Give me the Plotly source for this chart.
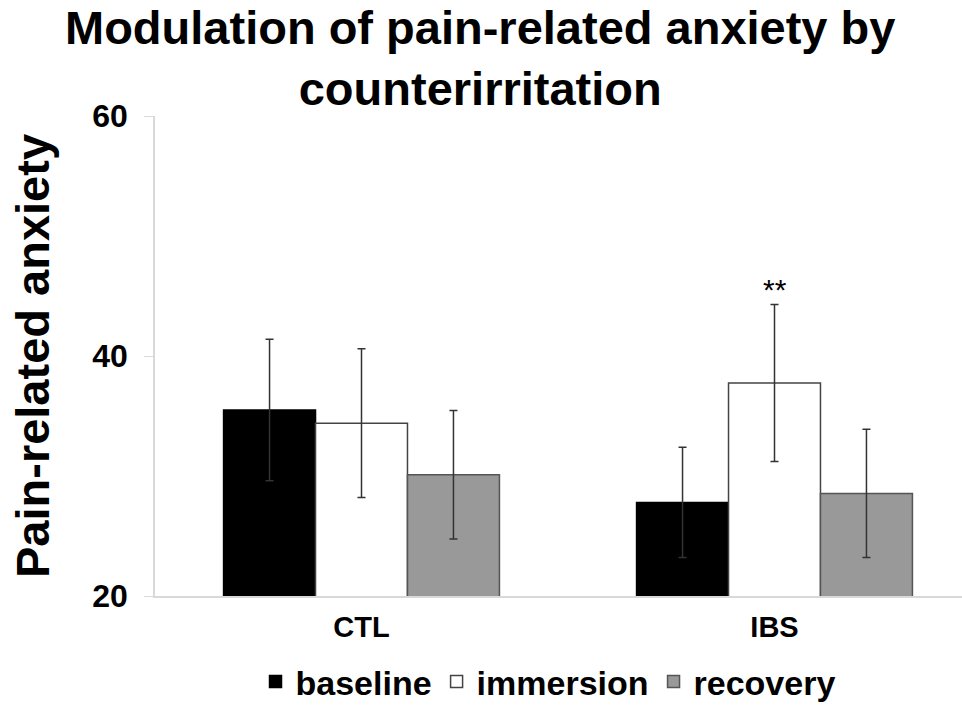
import plotly.graph_objects as go

categories = ["CTL", "IBS"]
series_names = ["baseline", "immersion", "recovery"]
baseline = [35.5, 27.8]
immersion = [34.4, 37.75]
recovery = [30.1, 28.55]
baseline_err = [5.9, 4.6]
immersion_err = [6.2, 6.55]
recovery_err = [5.35, 5.35]
y_ticks = [20, 40, 60]
title_text = "Modulation of pain-related anxiety by<br>counterirritation"

FONT = "Liberation Sans, Arial, sans-serif"

fills = ["#000000", "#ffffff", "#999999"]
borders = ["#000000", "#444444", "#555555"]
values = [baseline, immersion, recovery]
errs = [baseline_err, immersion_err, recovery_err]

fig = go.Figure()
for name, v, e, fc, bc in zip(series_names, values, errs, fills, borders):
    fig.add_trace(go.Bar(
        name=name, x=categories, y=v,
        marker=dict(color=fc, line=dict(color=bc, width=1.5)),
        error_y=dict(type="data", array=e, visible=True, color="#333333", thickness=1.5, width=4),
    ))

fig.add_annotation(x="IBS", y=immersion[1] + immersion_err[1], text="**", showarrow=False,
                   yanchor="bottom", yshift=-4, font=dict(family=FONT, size=30, color="#000"))

# title as annotation (two lines)
fig.add_annotation(xref="paper", yref="paper", x=0.403, y=1.243, xanchor="center", yanchor="top",
                   text=title_text, showarrow=False, align="center",
                   font=dict(family=FONT, size=47, color="#000", weight="bold"))

fig.update_layout(
    width=962, height=711,
    barmode="group", bargap=0.332, bargroupgap=0,
    plot_bgcolor="white", paper_bgcolor="white",
    margin=dict(l=155, r=0, t=116, b=114),
    font=dict(family=FONT, color="#000"),
    showlegend=True,
    legend=dict(orientation="h", x=0.487, xanchor="center", y=-0.179, yanchor="middle",
                font=dict(family=FONT, size=34, color="#000", weight="bold"),
                traceorder="normal", itemwidth=30),
)
fig.update_xaxes(range=[-0.5, 1.454], showline=True, linecolor="#d9d9d9", linewidth=1.5,
                 showgrid=False, ticks="", ticklabelstandoff=4,
                 tickfont=dict(family=FONT, size=29, color="#000", weight="bold"))
fig.update_yaxes(range=[20, 60], tickvals=y_ticks, showline=True, linecolor="#d9d9d9", linewidth=1.5,
                 showgrid=False, zeroline=False, ticks="outside", ticklen=9, tickcolor="#d9d9d9",
                 ticklabelstandoff=10,
                 tickfont=dict(family=FONT, size=32, color="#000", weight="bold"),
                 title=dict(text="Pain-related anxiety", standoff=28,
                            font=dict(family=FONT, size=47, color="#000", weight="bold")))

fig.write_html("out.html", config={"displayModeBar": False},
               post_script="document.body.style.margin='0';document.body.style.overflow='hidden';")
